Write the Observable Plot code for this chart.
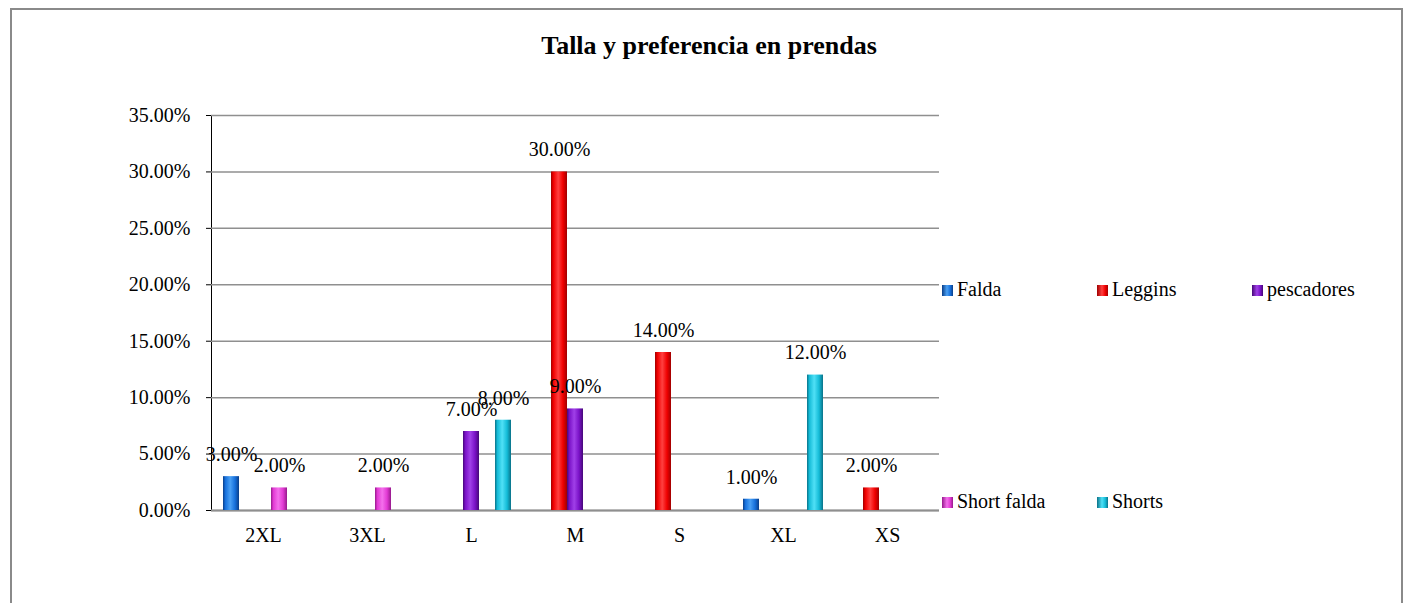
<!DOCTYPE html>
<html>
<head>
<meta charset="utf-8">
<script src="https://cdn.jsdelivr.net/npm/d3@7"></script>
<script src="https://cdn.jsdelivr.net/npm/@observablehq/plot@0.6"></script>
<style>
  body { margin: 0; background: #fff; }
  #wrap { position: relative; width: 1403px; height: 603px; overflow: hidden; font-family: "Liberation Serif", "Times New Roman", serif; color: #000; }
  #frame { position: absolute; left: 10px; top: 8px; width: 1393px; height: 700px; border: 2px solid #8a8a8a; box-sizing: border-box; }
  #title { position: absolute; top: 33px; left: 709px; transform: translateX(-50%); font-size: 26px; line-height: 26px; font-weight: bold; white-space: nowrap; }
  #chart { position: absolute; left: 0; top: 0; }
  .lg { position: absolute; font-size: 20px; line-height: 20px; white-space: nowrap; }
  .sw { position: absolute; width: 11px; height: 11px; }
  #chart g[aria-label="y-axis tick"] { stroke: #8f8f8f; }
  #chart g[aria-label="rule"] { stroke: #8f8f8f; stroke-width: 2px; }
</style>
</head>
<body>
<div id="wrap">
  <div id="frame"></div>
  <div id="chart"></div>
  <div id="title">Talla y preferencia en prendas</div>
  <div id="legend"></div>
</div>
<script>
// ---- data ----
const sizes = ["2XL", "3XL", "L", "M", "S", "XL", "XS"];
const series = ["Falda", "Leggins", "pescadores", "Short falda", "Shorts"];
const falda      = [3, 0, 0, 0, 0, 1, 0];
const leggins    = [0, 0, 0, 30, 14, 0, 2];
const pescadores = [0, 0, 7, 9, 0, 0, 0];
const shortFalda = [2, 2, 0, 0, 0, 0, 0];
const shorts     = [0, 0, 8, 0, 0, 12, 0];
const yTicks = [0, 5, 10, 15, 20, 25, 30, 35];

// ---- styles ----
const lightColors = ["#4aa0f4", "#ff4040", "#a040e8", "#f470ec", "#50e0f6"];
const mainColors  = ["#1670dc", "#f00000", "#7a12c8", "#e23ad4", "#14bcd8"];
const darkColors  = ["#0a3e88", "#a00000", "#460878", "#961a8c", "#0a7288"];

const valueLists = [falda, leggins, pescadores, shortFalda, shorts];
const rows = [];
series.forEach((s, i) => {
  valueLists[i].forEach((v, j) => {
    if (v > 0) rows.push({ size: sizes[j], series: s, value: v });
  });
});

const chart = Plot.plot({
  width: 1403,
  height: 603,
  marginTop: 115,
  marginBottom: 93,
  marginLeft: 208,
  marginRight: 461,
  style: { fontFamily: "'Liberation Serif', 'Times New Roman', serif", fontSize: "20px", color: "#000", background: "transparent", overflow: "visible" },
  fx: { domain: sizes, padding: 0, label: null, tickSize: 0, tickPadding: 17 },
  x: { domain: series, axis: null, paddingInner: 0, paddingOuter: 0.715 },
  y: { domain: [0, 35], ticks: yTicks, tickFormat: d => d.toFixed(2) + "%", label: null, tickSize: 5, tickPadding: 16, line: true },
  color: { domain: series, range: series.map((s, i) => `url(#grad${i})`) },
  marks: [
    Plot.gridY(yTicks, { stroke: "#8f8f8f", strokeOpacity: 1, strokeWidth: 1.5 }),
    Plot.ruleY([0], { stroke: "#8f8f8f", strokeWidth: 2 }),
    Plot.barY(rows, { fx: "size", x: "series", y: "value", fill: "series" }),
    Plot.text(rows, { fx: "size", x: "series", y: "value", text: d => d.value.toFixed(2) + "%", dy: -22, fontSize: 20 })
  ]
});

// gradients for the bars
const ns = "http://www.w3.org/2000/svg";
const defs = document.createElementNS(ns, "defs");
series.forEach((s, i) => {
  const g = document.createElementNS(ns, "linearGradient");
  g.setAttribute("id", `grad${i}`);
  g.setAttribute("x1", "0"); g.setAttribute("x2", "1"); g.setAttribute("y1", "0"); g.setAttribute("y2", "0");
  [[0, darkColors[i]], [0.15, mainColors[i]], [0.45, lightColors[i]], [0.75, mainColors[i]], [1, darkColors[i]]].forEach(([o, c]) => {
    const st = document.createElementNS(ns, "stop");
    st.setAttribute("offset", o);
    st.setAttribute("stop-color", c);
    g.appendChild(st);
  });
  defs.appendChild(g);
});
chart.insertBefore(defs, chart.firstChild);
chart.querySelectorAll('[aria-label^="y-axis"]').forEach(el => { if (el.getAttribute("aria-label") !== "y-axis tick label") el.setAttribute("stroke", "#8f8f8f"); });
document.getElementById("chart").appendChild(chart);

// legend (outside the plot area, on the right)
const legendPos = [
  { left: 942, top: 279 }, { left: 1097, top: 279 }, { left: 1252, top: 279 },
  { left: 942, top: 491 }, { left: 1097, top: 491 }
];
const legend = document.getElementById("legend");
series.forEach((s, i) => {
  const p = legendPos[i];
  const sw = document.createElement("div");
  sw.className = "sw";
  sw.style.left = p.left + "px";
  sw.style.top = (p.top + 6) + "px";
  sw.style.background = `linear-gradient(to right, ${darkColors[i]}, ${lightColors[i]} 45%, ${mainColors[i]} 75%, ${darkColors[i]})`;
  legend.appendChild(sw);
  const t = document.createElement("div");
  t.className = "lg";
  t.style.left = (p.left + 15) + "px";
  t.style.top = p.top + "px";
  t.textContent = s;
  legend.appendChild(t);
});
</script>
</body>
</html>
